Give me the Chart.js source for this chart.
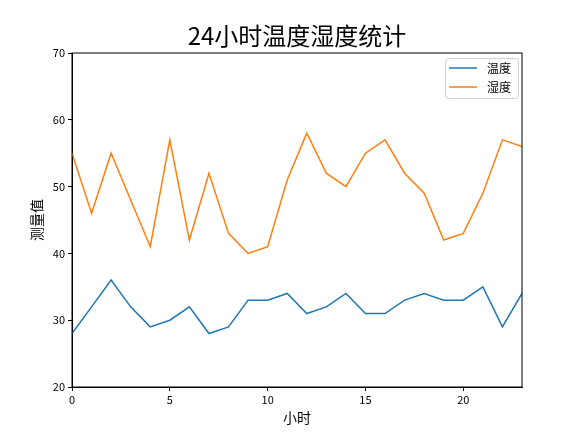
<!DOCTYPE html>
<html>
<head>
<meta charset="utf-8">
<script src="https://cdn.jsdelivr.net/npm/chart.js@4/dist/chart.umd.min.js"></script>
<style>
    html, body { margin: 0; padding: 0; background: #fff; }
    #wrap { width: 579px; height: 435px; }
</style>
</head>
<body>
<div id="wrap"><canvas id="myChart" width="579" height="435"></canvas></div>
<script>
// data
var hours = [0, 1, 2, 3, 4, 5, 6, 7, 8, 9, 10, 11, 12, 13, 14, 15, 16, 17, 18, 19, 20, 21, 22, 23];
var temperature = [28, 32, 36, 32, 29, 30, 32, 28, 29, 33, 33, 34, 31, 32, 34, 31, 31, 33, 34, 33, 33, 35, 29, 34];
var humidity = [55, 46, 55, 48, 41, 57, 42, 52, 43, 40, 41, 51, 58, 52, 50, 55, 57, 52, 49, 42, 43, 49, 57, 56];
var xTicks = [0, 5, 10, 15, 20];
var yTicks = [20, 30, 40, 50, 60, 70];

var cjk = "'Noto Sans CJK SC', 'DejaVu Sans', sans-serif";

function toPoints(values) {
    return values.map(function (v, i) {
        return { x: hours[i], y: v };
    });
}

// frame round the plot area, title over it and the legend box inside
var mplFrame = {
    id: "mplFrame",
    afterDraw: function (chart) {
        var ctx = chart.ctx;
        var a = chart.chartArea;
        ctx.save();
        ctx.strokeStyle = "#000";
        ctx.lineWidth = 1;
        ctx.strokeRect(a.left, a.top, a.right - a.left, a.bottom - a.top);

        ctx.fillStyle = "#000";
        ctx.font = "24px " + cjk;
        ctx.textAlign = "center";
        ctx.textBaseline = "middle";
        ctx.fillText("24小时温度湿度统计", (a.left + a.right) / 2, 36);

        // legend
        var bx = a.right - 77, by = a.top + 5, bw = 73, bh = 40;
        ctx.fillStyle = "rgba(255,255,255,0.8)";
        ctx.strokeStyle = "#d0d0d0";
        ctx.beginPath();
        ctx.roundRect(bx + 0.5, by + 0.5, bw, bh, 3);
        ctx.fill();
        ctx.stroke();
        ctx.font = "12px " + cjk;
        ctx.textAlign = "left";
        chart.data.datasets.forEach(function (ds, i) {
            var yy = by + 10 + i * 19;
            ctx.strokeStyle = ds.borderColor;
            ctx.lineWidth = 1.5;
            ctx.beginPath();
            ctx.moveTo(bx + 4, yy);
            ctx.lineTo(bx + 32, yy);
            ctx.stroke();
            ctx.fillStyle = "#000";
            ctx.fillText(ds.label, bx + 42, yy);
        });
        ctx.restore();
    }
};

var ctx = document.getElementById("myChart").getContext("2d");
var myChart = new Chart(ctx, {
    type: "line",
    data: {
        datasets: [
            {
                label: "温度",
                data: toPoints(temperature),
                borderColor: "#1f77b4",
                backgroundColor: "#1f77b4",
                borderWidth: 1.5,
                pointRadius: 0,
                tension: 0
            },
            {
                label: "湿度",
                data: toPoints(humidity),
                borderColor: "#ff7f0e",
                backgroundColor: "#ff7f0e",
                borderWidth: 1.5,
                pointRadius: 0,
                tension: 0
            }
        ]
    },
    options: {
        responsive: false,
        animation: false,
        layout: {
            padding: { top: 53, right: 57, left: 0, bottom: 0 }
        },
        plugins: {
            legend: { display: false },
            title: { display: false },
            tooltip: { enabled: false }
        },
        scales: {
            x: {
                type: "linear",
                min: 0,
                max: 23,
                afterBuildTicks: function (scale) {
                    scale.ticks = xTicks.map(function (v) { return { value: v }; });
                },
                afterFit: function (scale) { scale.height = 48; },
                grid: {
                    drawOnChartArea: false,
                    drawTicks: true,
                    tickLength: 4,
                    color: "#000"
                },
                border: { color: "#000" },
                ticks: {
                    color: "#000",
                    padding: 2,
                    maxRotation: 0,
                    font: { family: cjk, size: 11 }
                },
                title: {
                    display: true,
                    text: "小时",
                    color: "#000",
                    font: { family: cjk, size: 14 },
                    padding: { top: 0, bottom: 9 }
                }
            },
            y: {
                min: 20,
                max: 70,
                afterBuildTicks: function (scale) {
                    scale.ticks = yTicks.map(function (v) { return { value: v }; });
                },
                afterFit: function (scale) { scale.width = 72; },
                grid: {
                    drawOnChartArea: false,
                    drawTicks: true,
                    tickLength: 4,
                    color: "#000"
                },
                border: { color: "#000" },
                ticks: {
                    color: "#000",
                    padding: 3,
                    font: { family: cjk, size: 11 }
                },
                title: {
                    display: true,
                    text: "测量值",
                    color: "#000",
                    font: { family: cjk, size: 14 },
                    padding: { top: 28, bottom: 0 }
                }
            }
        }
    },
    plugins: [mplFrame]
});
</script>
</body>
</html>
